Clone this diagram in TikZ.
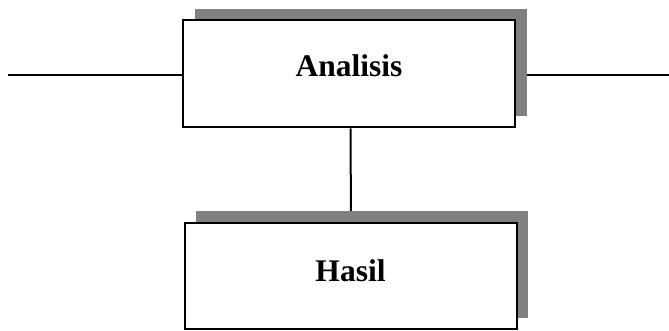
\documentclass[tikz,border=0pt]{standalone}
\usepackage{fontspec}
\setmainfont{Liberation Serif}
\usetikzlibrary{shadows,backgrounds}
\tikzset{
  boxnode/.style={draw=black, line width=2pt, fill=white, inner sep=0pt,
    minimum width=332pt, minimum height=107pt,
    font=\fontsize{31.5}{36}\selectfont\bfseries,
    drop shadow={shadow xshift=11.5pt, shadow yshift=11.5pt, fill=shadowgray, opacity=1}},
  link/.style={draw=black, line width=2pt}
}
\definecolor{shadowgray}{RGB}{128,128,128}
\begin{document}
\begin{tikzpicture}[x=1pt,y=-1pt]
\useasboundingbox (0,0) rectangle (669,331);
\node[boxnode, text height=22pt, text depth=17pt] (a) at (349,74) {Analisis};
\node[boxnode, minimum height=106pt, text height=22pt, text depth=11pt] (b) at (350.5,276) {Hasil};
\coordinate (l) at (8,75.5);
\coordinate (r) at (669,75.5);
\begin{pgfonlayer}{background}
\draw[link] (l) -- (l -| a.west);
\draw[link] (r -| a.east) -- (r);
\draw[link] ([xshift=1.5pt]a.south) -- ([xshift=0.5pt]b.north);
\end{pgfonlayer}
\end{tikzpicture}
\end{document}
